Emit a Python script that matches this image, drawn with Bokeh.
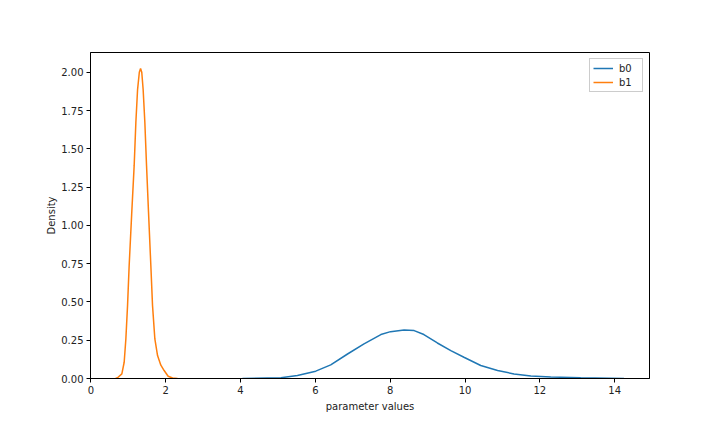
from bokeh.plotting import figure
from bokeh.models import FixedTicker, PrintfTickFormatter, Range1d, Legend, LegendItem
from bokeh.embed import file_html
from bokeh.resources import INLINE

# b0 density curve
b0_x = [4.05, 5.08, 5.52, 6.01, 6.41, 6.86, 7.30, 7.75, 8.01, 8.37, 8.64, 8.90,
        9.26, 9.62, 9.97, 10.42, 10.87, 11.31, 11.76, 12.29, 13.09, 14.25]
b0_y = [0.0, 0.005, 0.02, 0.048, 0.089, 0.16, 0.226, 0.287, 0.306, 0.317, 0.313, 0.287,
        0.232, 0.182, 0.139, 0.085, 0.052, 0.030, 0.017, 0.010, 0.005, 0.0]

# b1 density curve
b1_x = [0.66, 0.713, 0.828, 0.89, 0.935, 0.98, 1.023, 1.09, 1.157, 1.202, 1.248,
        1.295, 1.328, 1.36, 1.397, 1.443, 1.488, 1.54, 1.603, 1.648, 1.71, 1.782, 1.87,
        1.958, 2.065, 2.183, 2.316]
b1_y = [0.0, 0.005, 0.03, 0.106, 0.258, 0.476, 0.736, 1.07, 1.39, 1.67, 1.887,
        2.0, 2.025, 2.0, 1.887, 1.67, 1.39, 1.09, 0.736, 0.476, 0.258, 0.15, 0.087,
        0.052, 0.015, 0.003, 0.0]

x_ticks = [0, 2, 4, 6, 8, 10, 12, 14]
y_ticks = [0.0, 0.25, 0.5, 0.75, 1.0, 1.25, 1.5, 1.75, 2.0]
series_names = ["b0", "b1"]
colors = ["#1f77b4", "#ff7f0e"]

FONT = "DejaVu Sans"

p = figure(frame_width=559, frame_height=326,
           min_border_left=90, min_border_top=52, min_border_right=60, min_border_bottom=46,
           x_range=Range1d(-0.01, 14.93), y_range=Range1d(0, 2.129),
           output_backend="svg", toolbar_location=None)

p.background_fill_color = "white"
p.border_fill_color = "white"
p.outline_line_color = "black"
p.outline_line_alpha = 1
p.outline_line_width = 1
p.xgrid.visible = False
p.ygrid.visible = False

r0 = p.line(b0_x, b0_y, line_color=colors[0], line_width=1.5)
r1 = p.line(b1_x, b1_y, line_color=colors[1], line_width=1.5)

for ax in (p.xaxis[0], p.yaxis[0]):
    ax.major_tick_in = 0
    ax.major_tick_out = 4
    ax.minor_tick_line_color = None
    ax.axis_line_color = "black"
    ax.major_tick_line_color = "black"
    ax.major_label_text_font = FONT
    ax.major_label_text_font_size = "10px"
    ax.major_label_text_color = "#222222"
    ax.axis_label_text_font = FONT
    ax.axis_label_text_font_size = "10px"
    ax.axis_label_text_font_style = "normal"
    ax.axis_label_text_color = "#222222"
    ax.major_label_standoff = 3

p.xaxis[0].ticker = FixedTicker(ticks=x_ticks)
p.yaxis[0].ticker = FixedTicker(ticks=y_ticks)
p.yaxis[0].formatter = PrintfTickFormatter(format="%.2f")
p.xaxis[0].axis_label = "parameter values"
p.yaxis[0].axis_label = "Density"
p.xaxis[0].axis_label_standoff = 4
p.yaxis[0].axis_label_standoff = 1

legend = Legend(items=[LegendItem(label=series_names[0], renderers=[r0]),
                       LegendItem(label=series_names[1], renderers=[r1])],
                location="top_right")
legend.label_text_font = FONT
legend.label_text_font_size = "10px"
legend.label_text_color = "#222222"
legend.border_line_color = "#cccccc"
legend.border_line_alpha = 1
legend.glyph_width = 20
legend.glyph_height = 12
legend.label_height = 12
legend.spacing = 2
legend.padding = 3
legend.margin = 6
legend.label_standoff = 6
legend.background_fill_alpha = 0.8
p.add_layout(legend)

open("out.html", "w").write(file_html(p, INLINE))
